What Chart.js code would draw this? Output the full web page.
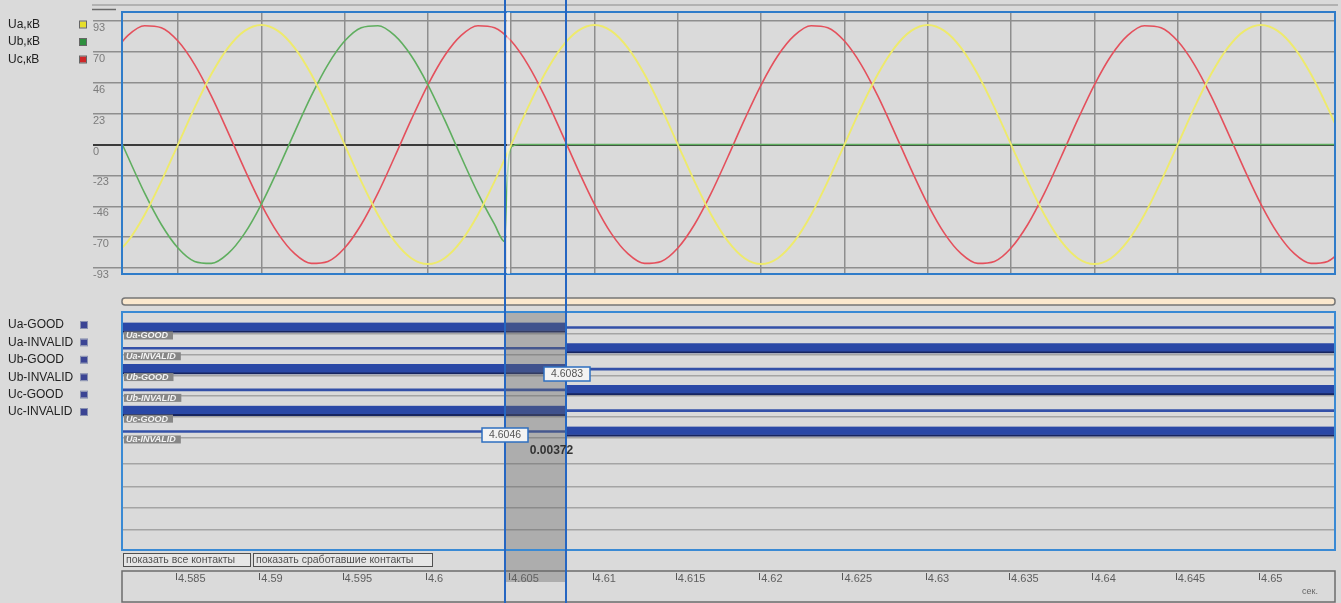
<!DOCTYPE html>
<html><head><meta charset="utf-8">
<script src="https://cdn.jsdelivr.net/npm/chart.js@4.4.1/dist/chart.umd.min.js"></script>
<style>
html,body{margin:0;padding:0;background:#dadada;width:1341px;height:603px;overflow:hidden;}
#c1{position:absolute;left:0;top:0;}
#c2{position:absolute;left:0;top:290px;}
</style></head><body>
<canvas id="c1" width="1341" height="290"></canvas>
<canvas id="c2" width="1341" height="313"></canvas>
<script>
// ---------- data ----------
const xMin = 4.58164, xMax = 4.65444;
const xTicks = [4.585,4.59,4.595,4.6,4.605,4.61,4.615,4.62,4.625,4.63,4.635,4.64,4.645,4.65];
const xTickLabels = ['4.585','4.59','4.595','4.6','4.605','4.61','4.615','4.62','4.625','4.63','4.635','4.64','4.645','4.65'];
const yTicks = [-93,-69.75,-46.5,-23.25,0,23.25,46.5,69.75,93];
const yTickLabels = ['-93','-70','-46','-23','0','23','46','70','93'];
const seriesNames = ['Ua,кВ','Ub,кВ','Uc,кВ'];

const times = [4.581,4.582,4.583,4.584,4.585,4.586,4.587,4.588,4.589,4.590,
 4.591,4.592,4.593,4.594,4.595,4.596,4.597,4.598,4.599,4.600,
 4.601,4.602,4.603,4.604,4.605,4.606,4.607,4.608,4.609,4.610,
 4.611,4.612,4.613,4.614,4.615,4.616,4.617,4.618,4.619,4.620,
 4.621,4.622,4.623,4.624,4.625,4.626,4.627,4.628,4.629,4.630,
 4.631,4.632,4.633,4.634,4.635,4.636,4.637,4.638,4.639,4.640,
 4.641,4.642,4.643,4.644,4.645,4.646,4.647,4.648,4.649,4.650,
 4.651,4.652,4.653,4.654,4.655];
const ua = [-85.6,-72.8,-52.9,-27.8,0,27.8,52.9,72.8,85.6,
 90,85.6,72.8,52.9,27.8,0,-27.8,-52.9,-72.8,-85.6,-90,-85.6,-72.8,-52.9,-27.8,0,27.8,52.9,72.8,85.6,
 90,85.6,72.8,52.9,27.8,0,-27.8,-52.9,-72.8,-85.6,-90,-85.6,-72.8,-52.9,-27.8,0,27.8,52.9,72.8,85.6,
 90,85.6,72.8,52.9,27.8,0,-27.8,-52.9,-72.8,-85.6,-90,-85.6,-72.8,-52.9,-27.8,0,27.8,52.9,72.8,85.6,
 90,85.6,72.8,52.9,27.8,0];
const uc = [66.9,82.2,89.5,88.0,77.9,60.2,36.6,9.4,-18.7,
 -45.0,-66.9,-82.2,-89.5,-88.0,-77.9,-60.2,-36.6,-9.4,18.7,45.0,66.9,82.2,89.5,88.0,77.9,60.2,36.6,9.4,-18.7,
 -45.0,-66.9,-82.2,-89.5,-88.0,-77.9,-60.2,-36.6,-9.4,18.7,45.0,66.9,82.2,89.5,88.0,77.9,60.2,36.6,9.4,-18.7,
 -45.0,-66.9,-82.2,-89.5,-88.0,-77.9,-60.2,-36.6,-9.4,18.7,45.0,66.9,82.2,89.5,88.0,77.9,60.2,36.6,9.4,-18.7,
 -45.0,-66.9,-82.2,-89.5,-88.0,-77.9];
const ubTimes = [4.581,4.582,4.583,4.584,4.585,4.586,4.587,4.588,4.589,4.590,
 4.591,4.592,4.593,4.594,4.595,4.596,4.597,4.598,4.599,4.600,
 4.601,4.602,4.603,4.604,4.6046,4.6047,4.6048,4.6049,4.6051,4.6055,4.655];
const ub = [18.7,-9.4,-36.6,-60.2,-77.9,-88.0,-89.5,-82.2,-66.9,
 -45.0,-18.7,9.4,36.6,60.2,77.9,88.0,89.5,82.2,66.9,45.0,18.7,-9.4,-36.6,-60.2,
 -73,-45,-19,-6,-1,0,0];

const cursorTimes = [4.6046, 4.6083];
const cursorLabels = ['4.6046', '4.6083'];
const deltaLabel = '0.00372';

const signalNames = ['Ua-GOOD','Ua-INVALID','Ub-GOOD','Ub-INVALID','Uc-GOOD','Uc-INVALID'];
const rowTags = ['Ua-GOOD','Ua-INVALID','Ub-GOOD','Ub-INVALID','Uc-GOOD','Ua-INVALID'];
const stateBefore = [1,0,1,0,1,0];
const switchTime = 4.6083;
const gridRows = [0.3,1.3,2.3,3.3,4.3,5.3,6.55,7.65,8.65,9.75];
const buttonTexts = ['показать все контакты','показать сработавшие контакты'];
const unitLabel = 'сек.';

// ---------- setup ----------
Chart.defaults.font.family = '"Liberation Sans", Arial, sans-serif';
const lineColors = ['#eeea6c','#5fae5f','#e4505c'];
const swatchColors = ['#e6de2a','#2e8f3e','#cf2628'];
const CURSOR = '#2566c2';

const deco1 = {
  id: 'deco1',
  afterDraw(chart) {
    const {ctx, chartArea: a, scales: {x}} = chart;
    ctx.save();
    ctx.strokeStyle = '#a4a4a4'; ctx.lineWidth = 1.5;
    ctx.beginPath(); ctx.moveTo(92, 5); ctx.lineTo(1338, 5); ctx.stroke();
    ctx.strokeStyle = '#6a6a6a';
    ctx.beginPath(); ctx.moveTo(92, 9.5); ctx.lineTo(116, 9.5); ctx.stroke();
    ctx.strokeStyle = '#2f7cc9'; ctx.lineWidth = 2;
    ctx.strokeRect(a.left, a.top, a.right - a.left, a.bottom - a.top);
    cursorTimes.forEach((t, i) => {
      const px = Math.round(x.getPixelForValue(t));
      if (i === 0) {
        ctx.strokeStyle = 'rgba(255,255,255,0.55)'; ctx.lineWidth = 3;
        ctx.beginPath(); ctx.moveTo(px + 3.5, a.top); ctx.lineTo(px + 3.5, a.bottom); ctx.stroke();
      }
      ctx.strokeStyle = CURSOR; ctx.lineWidth = 2;
      ctx.beginPath(); ctx.moveTo(px, 0); ctx.lineTo(px, chart.height); ctx.stroke();
    });
    ctx.font = '12px "Liberation Sans", Arial, sans-serif';
    ctx.textBaseline = 'middle'; ctx.textAlign = 'left';
    seriesNames.forEach((n, i) => {
      const y = 24.5 + i * 17.5;
      ctx.fillStyle = '#222'; ctx.fillText(n, 8, y);
      ctx.fillStyle = swatchColors[i]; ctx.fillRect(80, y - 3, 6, 6);
      ctx.strokeStyle = '#666'; ctx.lineWidth = 1; ctx.strokeRect(79.5, y - 3.5, 7, 7);
    });
    ctx.restore();
  }
};

const mk = (ts, vs) => ts.map((t, i) => ({x: t, y: vs[i]}));

new Chart(document.getElementById('c1'), {
  type: 'line',
  data: { datasets: [
    {label: seriesNames[0], data: mk(times, ua), borderColor: lineColors[0], borderWidth: 1.9},
    {label: seriesNames[1], data: mk(ubTimes, ub), borderColor: lineColors[1]},
    {label: seriesNames[2], data: mk(times, uc), borderColor: lineColors[2]}
  ]},
  options: {
    responsive: false, animation: false, devicePixelRatio: 1, events: [],
    layout: { padding: {left: 93, right: 6, top: 12, bottom: 16} },
    elements: { point: {radius: 0}, line: {borderWidth: 1.6, cubicInterpolationMode: 'monotone', fill: false} },
    plugins: { legend: {display: false}, tooltip: {enabled: false} },
    scales: {
      x: { type: 'linear', min: xMin, max: xMax,
        afterBuildTicks: s => { s.ticks = xTicks.map(v => ({value: v})); },
        ticks: {display: false}, grid: {color: '#8e8e8e', lineWidth: 1.5, drawTicks: false},
        border: {display: false}, afterFit: s => { s.height = 0; } },
      y: { type: 'linear', min: -97.5, max: 99.8,
        afterBuildTicks: s => { s.ticks = yTicks.map(v => ({value: v})); },
        afterFit: s => { s.width = 29; },
        ticks: { crossAlign: 'far', labelOffset: 7, padding: 0, autoSkip: false, color: '#7c7c7c', font: {size: 11},
          callback: v => yTickLabels[yTicks.indexOf(v)] },
        grid: { color: c => (c.tick && c.tick.value === 0) ? '#3a3a3a' : '#8e8e8e',
          lineWidth: c => (c.tick && c.tick.value === 0) ? 2 : 1.5, tickLength: 29 },
        border: {display: false} }
    }
  },
  plugins: [deco1]
});

// ---------- digital chart ----------
const highData = [], lowData = [];
signalNames.forEach((n, r) => {
  (stateBefore[r] ? highData : lowData).push({x: [xMin, switchTime], y: r});
  (stateBefore[r] ? lowData : highData).push({x: [switchTime, xMax], y: r});
});

const deco2 = {
  id: 'deco2',
  afterDraw(chart) {
    const {ctx, chartArea: a, scales: {x, y}} = chart;
    ctx.save();
    // scrollbar
    ctx.fillStyle = '#fbe8cd'; ctx.strokeStyle = '#767676'; ctx.lineWidth = 1.5;
    ctx.beginPath(); ctx.roundRect(a.left, 8, a.right - a.left, 7, 3); ctx.fill(); ctx.stroke();
    // row tags
    ctx.font = 'italic bold 9px "Liberation Sans", Arial, sans-serif';
    ctx.textBaseline = 'middle'; ctx.textAlign = 'left';
    rowTags.forEach((t, r) => {
      const yc = y.getPixelForValue(r);
      const w = ctx.measureText(t).width + 7;
      ctx.fillStyle = '#868686'; ctx.fillRect(124, yc + 4, w, 8);
      ctx.fillStyle = '#f4f4f4'; ctx.fillText(t, 126, yc + 8.5);
    });
    // left legend
    ctx.font = '12px "Liberation Sans", Arial, sans-serif';
    signalNames.forEach((n, i) => {
      const yy = 35 + i * 17.4;
      ctx.fillStyle = '#222'; ctx.fillText(n, 8, yy);
      ctx.fillStyle = '#3b4494'; ctx.fillRect(81, yy - 3, 6, 6);
      ctx.strokeStyle = '#8890b0'; ctx.lineWidth = 1; ctx.strokeRect(80.5, yy - 3.5, 7, 7);
    });
    // buttons
    ctx.font = '10.5px "Liberation Sans", Arial, sans-serif';
    [[123, 127], [253, 179]].forEach(([bx, bw], i) => {
      ctx.fillStyle = '#e6e6e6'; ctx.fillRect(bx, 263, bw, 13);
      ctx.strokeStyle = '#505050'; ctx.lineWidth = 1; ctx.strokeRect(bx + 0.5, 263.5, bw, 13);
      ctx.fillStyle = '#505050'; ctx.fillText(buttonTexts[i], bx + 3, 270);
    });
    // bottom strip
    ctx.strokeStyle = '#6c6c6c'; ctx.lineWidth = 1.5;
    ctx.strokeRect(a.left, 281, a.right - a.left, 31);
    ctx.strokeStyle = '#555'; ctx.lineWidth = 1;
    xTicks.forEach(v => {
      const px = Math.round(x.getPixelForValue(v)) - 1.5;
      ctx.beginPath(); ctx.moveTo(px, 283); ctx.lineTo(px, 290); ctx.stroke();
    });
    ctx.fillStyle = '#666'; ctx.font = '9px "Liberation Sans", Arial, sans-serif';
    ctx.fillText(unitLabel, 1302, 302);
    // band between cursors
    const p1 = Math.round(x.getPixelForValue(cursorTimes[0]));
    const p2 = Math.round(x.getPixelForValue(cursorTimes[1]));
    ctx.fillStyle = 'rgba(100,100,100,0.38)';
    ctx.fillRect(p1, a.top, p2 - p1, 292 - a.top);
    // box
    ctx.strokeStyle = '#3a8ad4'; ctx.lineWidth = 2;
    ctx.strokeRect(a.left, a.top, a.right - a.left, a.bottom - a.top);
    // cursors
    [p1, p2].forEach(px => {
      ctx.strokeStyle = CURSOR; ctx.lineWidth = 2;
      ctx.beginPath(); ctx.moveTo(px, 0); ctx.lineTo(px, chart.height); ctx.stroke();
    });
    // cursor labels
    ctx.font = '10.5px "Liberation Sans", Arial, sans-serif';
    ctx.textAlign = 'center';
    [[p1, 145], [p2 + 1, 84]].forEach(([px, yy], i) => {
      ctx.fillStyle = '#f3f3f3'; ctx.fillRect(px - 23, yy - 7, 46, 14);
      ctx.strokeStyle = '#2e6fc0'; ctx.lineWidth = 1.5; ctx.strokeRect(px - 23, yy - 7, 46, 14);
      ctx.fillStyle = '#555'; ctx.fillText(cursorLabels[i], px, yy + 0.5);
    });
    ctx.font = 'bold 12px "Liberation Sans", Arial, sans-serif';
    ctx.fillStyle = '#333';
    ctx.fillText(deltaLabel, (p1 + p2) / 2 + 16, 161);
    ctx.restore();
  }
};

new Chart(document.getElementById('c2'), {
  type: 'bar',
  data: { datasets: [
    {data: highData, barThickness: 10, grouped: false, backgroundColor: '#2a48a6',
     borderColor: '#17255f', borderWidth: {top: 0, left: 0, right: 0, bottom: 2}, borderSkipped: false},
    {data: lowData, barThickness: 2, grouped: false, backgroundColor: '#3350a8', borderWidth: 0}
  ]},
  options: {
    indexAxis: 'y', responsive: false, animation: false, devicePixelRatio: 1, events: [],
    layout: { padding: {left: 122, right: 6, top: 22, bottom: 0} },
    plugins: { legend: {display: false}, tooltip: {enabled: false} },
    scales: {
      x: { type: 'linear', min: xMin, max: xMax,
        afterBuildTicks: s => { s.ticks = xTicks.map(v => ({value: v})); },
        grid: {display: false, drawTicks: false}, border: {display: false},
        ticks: { align: 'start', padding: 22, autoSkip: false, maxRotation: 0, color: '#5e5e5e', font: {size: 11},
          callback: v => xTickLabels[xTicks.indexOf(v)] },
        afterFit: s => { s.height = 53; } },
      y: { type: 'linear', reverse: true, min: -0.745, max: 10.70, offset: false,
        afterBuildTicks: s => { s.ticks = gridRows.map(v => ({value: v})); },
        ticks: {display: false},
        grid: {color: '#a4a4a4', lineWidth: 1.5, drawTicks: false, offset: false},
        border: {display: false}, afterFit: s => { s.width = 0; } }
    }
  },
  plugins: [deco2]
});
</script>
</body></html>
